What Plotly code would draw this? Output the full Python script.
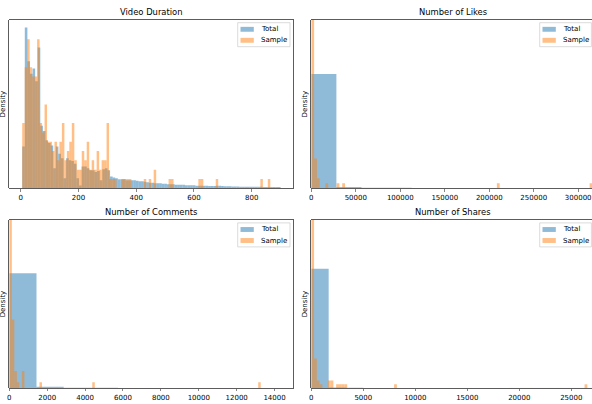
import numpy as np
import plotly.graph_objects as go

# ------------------------------------------------------------------ data
titles = ["Video Duration", "Number of Likes", "Number of Comments", "Number of Shares"]
series_names = ["Total", "Sample"]

# Video duration: Total histogram (density, x1e-4), 100 bins
duration_total_start = 5.0
duration_total_binwidth = 8.95
duration_total_density_e4 = [
    23, 88.5, 70, 63, 66, 59, 77.5, 34.5, 31.5, 26.5, 25, 23.5,
    11, 23, 19, 16.5, 5.5, 16.5, 15.5, 15, 13.5, 5.5, 1.5, 12, 12, 11, 10, 10,
    9, 9.5, 4.5, 10.5, 11, 10, 6.5, 6,
    5.5, 5, 5, 5,
    4.4, 4.4, 4.4, 4.4,
    4.1, 3.9, 3.9, 3.6,
    3.3, 3.0, 3.0, 2.75, 2.75, 2.75, 2.5, 2.5,
    2.2, 2.2, 2.2, 1.9, 1.9, 1.9, 1.9, 1.65, 1.65, 1.65, 1.65,
    1.4, 1.4, 1.4, 1.4, 1.4, 1.25, 1.25, 1.25, 1.4, 1.4, 1.25,
    1.1, 1.1, 1.1, 1.0, 1.0, 1.0, 0.9, 0.9, 0.9, 0.85, 0.85, 0.85,
    0.8, 0.8, 0.8, 0.75, 0.75, 0.75, 0.7, 0.7, 0.7, 0.7,
]
# Video duration: Sample histogram (counts), 100 bins
duration_sample_start = 5.0
duration_sample_binwidth = 8.594
duration_sample_counts = [
    7, 13, 16, 13, 12, 12, 16, 7, 6, 9,
    5, 5, 4, 5, 3, 5, 7, 3, 4, 5,
    7, 3, 2, 2, 4, 3, 5, 2, 3, 2,
    4, 2, 3, 3, 7, 1, 1, 1, 0, 0,
    1, 1, 1, 1, 0, 0, 0, 0, 0, 1,
    0, 1, 0, 2, 0, 0, 0, 0, 0, 1,
    1, 0, 0, 0, 0, 0, 0, 0, 0, 0,
    0, 1, 1, 0, 0, 0, 0, 0, 1, 0,
    0, 0, 0, 0, 0, 0, 0, 0, 0, 0,
    0, 0, 0, 0, 0, 0, 1, 0, 0, 1,
]

# Likes
likes_total_binwidth = 28200
likes_total_density_e6 = [32.1, 0.34, 0.17, 0.14, 0.11, 0.05, 0.04, 0.03, 0.03, 0.02, 0.02, 0.02]
likes_sample_binwidth = 3160
likes_sample_nbins = 100
likes_sample_counts = {0: 214, 1: 6, 2: 2, 5: 1, 9: 1, 11: 1, 66: 1, 99: 1}

# Comments
comments_total_binwidth = 1435
comments_total_density_e5 = [66.8, 0.76, 0.2, 0.1, 0.05, 0.04, 0.03, 0.02, 0.02, 0.02, 0.02]
comments_sample_binwidth = 132.7
comments_sample_nbins = 100
comments_sample_counts = {0: 205, 1: 12, 2: 3, 3: 1, 5: 3, 12: 1, 33: 1, 99: 1}

# Shares
shares_total_binwidth = 1670
shares_total_density_e5 = [53.6, 0.22, 0.13, 0.05, 0.04, 0.03, 0.02, 0.02, 0.02, 0.02, 0.02, 0.02, 0.02, 0.02, 0.02, 0.02, 0.02]
shares_sample_binwidth = 265.4
shares_sample_nbins = 100
shares_sample_counts = {0: 206, 1: 8, 2: 2, 3: 1, 6: 2, 7: 2, 9: 1, 10: 1, 11: 1, 12: 1, 30: 1, 99: 1}

duration_ticks = [0, 200, 400, 600, 800]
likes_ticks = [0, 50000, 100000, 150000, 200000, 250000, 300000]
comments_ticks = [0, 2000, 4000, 6000, 8000, 10000, 12000, 14000]
shares_ticks = [0, 5000, 10000, 15000, 20000, 25000]

# ------------------------------------------------------------------ helpers
W, H = 592, 404
FONT = "DejaVu Sans"
BLUE = "rgba(31,119,180,0.5)"
ORANGE = "rgba(255,127,14,0.5)"


def px_x(x):
    return x / W


def px_y(y):
    return 1 - y / H


def dense(sparse, n):
    arr = np.zeros(n)
    for k, v in sparse.items():
        arr[k] = v
    return arr


def bins(start, width, n):
    return start + width * (np.arange(n) + 0.5)


def sample_density(counts, width):
    counts = np.asarray(counts, dtype=float)
    return counts / (counts.sum() * width)


panels = []

# duration
dt = np.array(duration_total_density_e4) * 1e-4
ds = sample_density(duration_sample_counts, duration_sample_binwidth)
lo = min(duration_total_start, duration_sample_start)
hi = max(duration_total_start + duration_total_binwidth * len(dt),
         duration_sample_start + duration_sample_binwidth * len(ds))
pad = 0.05 * (hi - lo)
panels.append(dict(
    tx=bins(duration_total_start, duration_total_binwidth, len(dt)), tw=duration_total_binwidth, ty=dt,
    sx=bins(duration_sample_start, duration_sample_binwidth, len(ds)), sw=duration_sample_binwidth, sy=ds,
    xr=[lo - pad, hi + pad], yr=[0, 1.05 * max(dt.max(), ds.max())], ticks=duration_ticks,
    px=(9.3, 293.5, 293.5), py=(19.5, 188.3)))

# likes
lt = np.array(likes_total_density_e6) * 1e-6
ls = sample_density(dense(likes_sample_counts, likes_sample_nbins), likes_sample_binwidth)
panels.append(dict(
    tx=bins(0, likes_total_binwidth, len(lt)), tw=likes_total_binwidth, ty=lt,
    sx=bins(0, likes_sample_binwidth, len(ls)), sw=likes_sample_binwidth, sy=ls,
    xr=[0, 315500], yr=[0, 47.4e-6], ticks=likes_ticks,
    px=(311.3, 592, 595.5), py=(19.5, 188.3)))

# comments
ct = np.array(comments_total_density_e5) * 1e-5
cs = sample_density(dense(comments_sample_counts, comments_sample_nbins), comments_sample_binwidth)
panels.append(dict(
    tx=bins(0, comments_total_binwidth, len(ct)), tw=comments_total_binwidth, ty=ct,
    sx=bins(0, comments_sample_binwidth, len(cs)), sw=comments_sample_binwidth, sy=cs,
    xr=[0, 15000], yr=[0, 98.0e-5], ticks=comments_ticks,
    px=(9.3, 293.5, 293.5), py=(219.7, 388.0)))

# shares
st = np.array(shares_total_density_e5) * 1e-5
ss = sample_density(dense(shares_sample_counts, shares_sample_nbins), shares_sample_binwidth)
panels.append(dict(
    tx=bins(0, shares_total_binwidth, len(st)), tw=shares_total_binwidth, ty=st,
    sx=bins(0, shares_sample_binwidth, len(ss)), sw=shares_sample_binwidth, sy=ss,
    xr=[0, 26990], yr=[0, 75.6e-5], ticks=shares_ticks,
    px=(311.3, 592, 595.5), py=(219.7, 388.0)))

# ------------------------------------------------------------------ figure
fig = go.Figure()
layout = dict(
    width=W, height=H, margin=dict(l=0, r=0, t=0, b=0),
    paper_bgcolor="white", plot_bgcolor="white",
    barmode="overlay", showlegend=False,
    font=dict(family=FONT, size=7, color="black"),
)
shapes, annotations = [], []

for i, p in enumerate(panels):
    n = "" if i == 0 else str(i + 1)
    xa, ya = "x" + n, "y" + n
    fig.add_trace(go.Bar(x=p["tx"], y=p["ty"], width=p["tw"], name=series_names[0],
                         marker=dict(color=BLUE, line=dict(width=0)), xaxis=xa, yaxis=ya))
    fig.add_trace(go.Bar(x=p["sx"], y=p["sy"], width=p["sw"], name=series_names[1],
                         marker=dict(color=ORANGE, line=dict(width=0)), xaxis=xa, yaxis=ya))
    x0, x1, xv = p["px"]
    y0, y1 = p["py"]
    right_col = x1 >= W
    layout["xaxis" + n] = dict(
        domain=[px_x(x0), px_x(x1)], range=p["xr"], anchor=ya,
        showline=True, linecolor="#333", linewidth=0.8, mirror=True,
        ticks="outside", ticklen=2.5, tickwidth=0.6, tickcolor="#333",
        tickvals=p["ticks"], ticktext=[str(t) for t in p["ticks"]],
        tickfont=dict(family=FONT, size=7, color="black"),
        ticklabeloverflow="allow",
        showgrid=False, zeroline=False, automargin=False, fixedrange=True)
    layout["yaxis" + n] = dict(
        domain=[px_y(y1), px_y(y0)], range=p["yr"], anchor=xa,
        showline=True, linecolor="#333", linewidth=0.8, mirror=not right_col,
        showticklabels=False, ticks="", showgrid=False, zeroline=False,
        automargin=False, fixedrange=True)

    # title
    annotations.append(dict(text=titles[i], xref="paper", yref="paper",
                            x=px_x((x0 + xv) / 2), y=px_y(y0 - 7.3),
                            xanchor="center", yanchor="middle", showarrow=False,
                            font=dict(family=FONT, size=8.4, color="black")))
    # y label
    annotations.append(dict(text="Density", xref="paper", yref="paper",
                            x=px_x(x0 - 6.8), y=px_y((y0 + y1) / 2), textangle=-90,
                            xanchor="center", yanchor="middle", showarrow=False,
                            font=dict(family=FONT, size=7, color="black")))
    # legend
    bx1 = min(xv - 3.5, W - 0.6)
    bx0 = xv - 3.5 - 52.3
    by0 = y0 + 3.2
    by1 = by0 + 24
    shapes.append(dict(type="rect", xref="paper", yref="paper",
                       x0=px_x(bx0), x1=px_x(bx1), y0=px_y(by1), y1=px_y(by0),
                       fillcolor="rgba(255,255,255,0.8)",
                       line=dict(color="#cccccc", width=0.7), layer="above"))
    for r, (nm, col) in enumerate(zip(series_names, [BLUE, ORANGE])):
        cy = by0 + 6.6 + r * 11
        shapes.append(dict(type="rect", xref="paper", yref="paper",
                           x0=px_x(bx0 + 2.8), x1=px_x(bx0 + 16.1),
                           y0=px_y(cy + 2.45), y1=px_y(cy - 2.45),
                           fillcolor=col, line=dict(width=0), layer="above"))
        annotations.append(dict(text=nm, xref="paper", yref="paper",
                                x=px_x(bx0 + 22.4), y=px_y(cy), xanchor="left", yanchor="middle",
                                showarrow=False, borderpad=0,
                                font=dict(family=FONT, size=7, color="black")))

layout["shapes"] = shapes
layout["annotations"] = annotations
fig.update_layout(**layout)
fig.write_html("out.html",
               config={"displayModeBar": False, "staticPlot": True},
               post_script="document.body.style.margin='0px';document.body.style.overflow='hidden';")
